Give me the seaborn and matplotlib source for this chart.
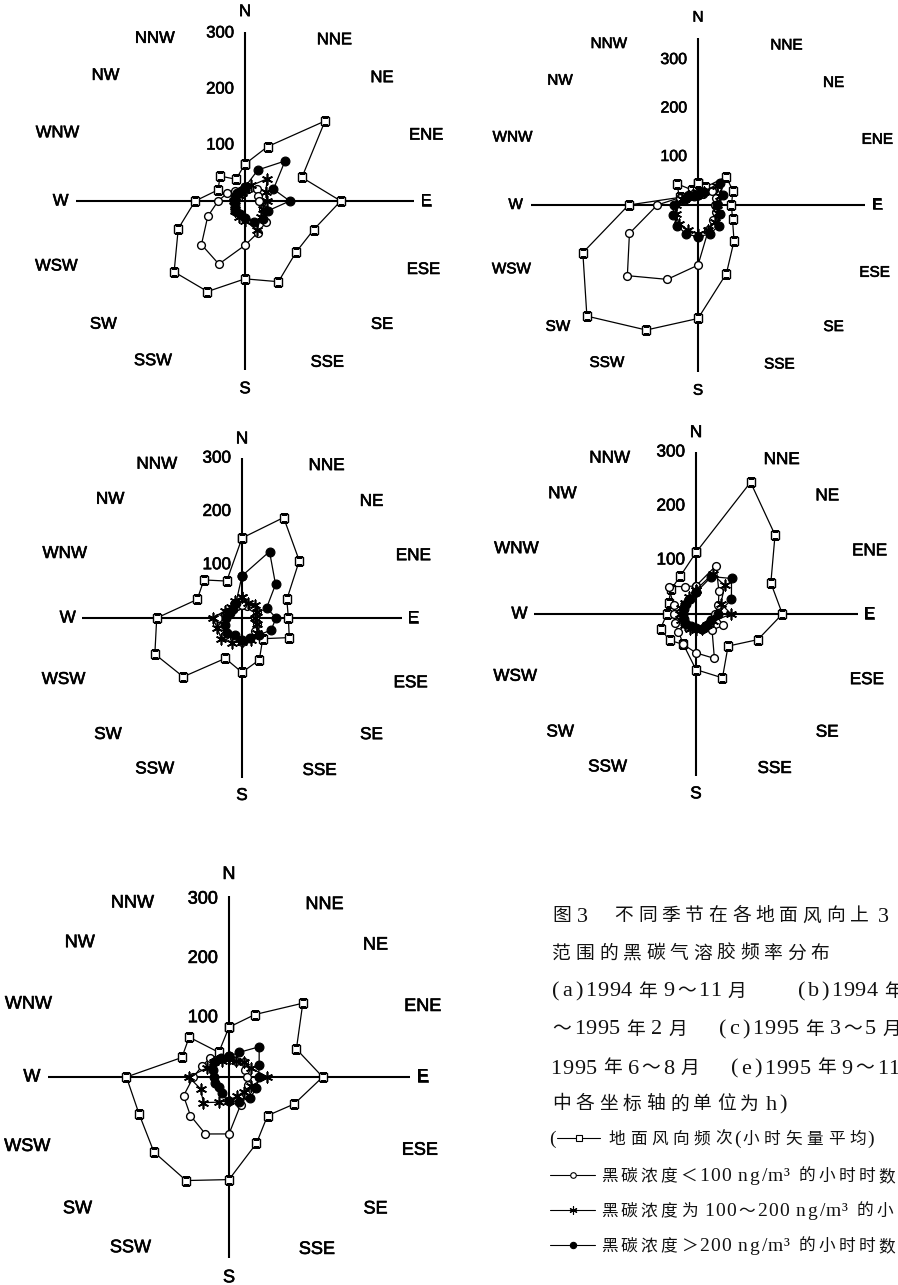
import numpy as np
import matplotlib
matplotlib.use("Agg")
import matplotlib.pyplot as plt
import matplotlib.patheffects as pe
import seaborn as sns
from matplotlib.transforms import ScaledTranslation
from matplotlib.lines import Line2D

# ---------------------------------------------------------------------------
# Data: hours per surface wind direction (16 compass points, clockwise from N)
# ---------------------------------------------------------------------------
directions = ["N", "NNE", "NE", "ENE", "E", "ESE", "SE", "SSE",
              "S", "SSW", "SW", "WSW", "W", "WNW", "NW", "NNW"]
tick_values = [100, 200, 300]

# (a) 1994-09 ~ 1994-11
a_wind = [66, 105, 202, 110, 171, 133, 129, 156, 139, 175, 179, 129, 89, 52, 63, 42]
a_low = [20, 25, 30, 25, 25, 35, 53, 61, 79, 122, 110, 72, 48, 35, 25, 20]
a_mid = [20, 30, 56, 40, 40, 35, 40, 56, 35, 30, 25, 20, 20, 15, 15, 15]
a_high = [25, 60, 101, 55, 80, 45, 45, 40, 30, 25, 25, 20, 20, 20, 20, 20]

# (b) 1994-12 ~ 1995-02
b_wind = [46, 40, 82, 78, 69, 77, 105, 153, 234, 279, 324, 257, 143, 41, 62, 34]
b_low = [25, 25, 40, 40, 35, 40, 45, 56, 124, 166, 206, 153, 84, 40, 30, 25]
b_mid = [25, 30, 55, 50, 40, 45, 50, 55, 60, 55, 55, 50, 45, 35, 25, 25]
b_high = [20, 30, 64, 55, 40, 50, 60, 65, 65, 65, 60, 55, 50, 30, 25, 20]

# (c) 1995-03 ~ 1995-05
c_wind = [150, 204, 152, 91, 87, 96, 55, 85, 102, 82, 156, 177, 160, 91, 101, 75]
c_low = [25, 25, 30, 30, 25, 30, 35, 40, 45, 40, 45, 40, 45, 30, 25, 25]
c_mid = [40, 30, 35, 30, 25, 30, 40, 45, 45, 50, 55, 50, 55, 35, 30, 35]
c_high = [79, 135, 89, 50, 64, 59, 45, 40, 42, 35, 40, 35, 30, 25, 25, 30]

# (d) 1995-06 ~ 1995-08
d_wind = [114, 264, 207, 150, 160, 124, 84, 128, 103, 61, 69, 71, 54, 55, 65, 76]
d_low = [52, 97, 60, 45, 35, 55, 42, 89, 72, 61, 46, 43, 40, 45, 72, 55]
d_mid = [45, 80, 75, 50, 65, 35, 30, 30, 30, 30, 30, 30, 30, 30, 30, 35]
d_high = [40, 75, 93, 71, 40, 30, 30, 30, 25, 25, 25, 25, 25, 25, 25, 30]

# (e) 1995-09 ~ 1995-11
e_wind = [84, 114, 176, 123, 158, 119, 92, 121, 173, 189, 179, 164, 173, 86, 95, 45]
e_low = [35, 30, 35, 30, 30, 35, 40, 51, 96, 104, 92, 83, 60, 49, 45, 35]
e_mid = [30, 30, 35, 40, 64, 40, 35, 35, 40, 46, 61, 52, 68, 40, 35, 30]
e_high = [35, 45, 72, 55, 50, 50, 50, 45, 40, 30, 25, 25, 25, 30, 35, 35]

caption_lines = [
    "图 3　不同季节在各地面风向上  3",
    "范围的黑碳气溶胶频率分布",
    "(a)1994 年 9～11 月　　(b)1994 年",
    "～1995 年 2 月　 (c)1995 年 3～5 月",
    "1995 年 6～8 月　 (e)1995 年 9～11",
    "中各坐标轴的单位为 h)",
]
legend_lines = [
    "地面风向频次(小时矢量平均)",
    "黑碳浓度＜100 ng/m³ 的小时时数",
    "黑碳浓度为 100～200 ng/m³ 的小",
    "黑碳浓度＞200 ng/m³ 的小时时数",
]

# ---------------------------------------------------------------------------
# Layout and style
# ---------------------------------------------------------------------------
W, H = 898, 1285
sns.set_style("white")
plt.rcParams["font.family"] = ["Liberation Sans", "Noto Sans CJK SC", "DejaVu Sans"]

fig = plt.figure(figsize=(W / 100, H / 100), dpi=100)
fig.patch.set_facecolor("white")

# compass label placement: bearing (deg) and distance relative to the arm length
label_bearing = [0, 29, 48, 70, 90, 111, 132, 153, 180, 210, 229, 251, 270, 290, 312, 331]
label_dist = [1.12, 1.09, 1.09, 1.14, 1.07, 1.13, 1.09, 1.07,
              1.11, 1.09, 1.11, 1.18, 1.09, 1.18, 1.11, 1.10]
heavier = [pe.withStroke(linewidth=0.45, foreground="black")]

series_styles = [
    dict(marker="s", markersize=5.3, markerfacecolor="white",
         markeredgecolor="black", markeredgewidth=1.0),
    dict(marker="o", markersize=5.6, markerfacecolor="white",
         markeredgecolor="black", markeredgewidth=1.0),
    dict(marker=(6, 2, 0), markersize=8, markerfacecolor="black",
         markeredgecolor="black", markeredgewidth=1.2),
    dict(marker="o", markersize=6.3, markerfacecolor="black",
         markeredgecolor="black", markeredgewidth=0.9),
]

panels = [
    dict(series=(a_wind, a_low, a_mid, a_high), cx=245, cy=201, scale=0.56, arm=302, fs=12, tfs=12),
    dict(series=(b_wind, b_low, b_mid, b_high), cx=698, cy=205, scale=0.485, arm=345, fs=11, tfs=11.5),
    dict(series=(c_wind, c_low, c_mid, c_high), cx=242, cy=618, scale=0.533, arm=300, fs=12.3, tfs=12.3),
    dict(series=(d_wind, d_low, d_mid, d_high), cx=696, cy=614, scale=0.54, arm=300, fs=12.3, tfs=12.3),
    dict(series=(e_wind, e_low, e_mid, e_high), cx=229, cy=1077, scale=0.593, arm=305, fs=13, tfs=13),
]

theta = np.deg2rad(np.arange(len(directions)) * 22.5)
theta_closed = np.append(theta, 2 * np.pi)


def draw_panel(p):
    rmax = p["arm"] * 1.32
    half = rmax * p["scale"]
    ax = fig.add_axes([(p["cx"] - half) / W, 1 - (p["cy"] + half) / H,
                       2 * half / W, 2 * half / H], projection="polar")
    ax.set_theta_zero_location("N")
    ax.set_theta_direction(-1)

    for z, (vals, style) in enumerate(zip(p["series"], series_styles)):
        r = np.append(vals, vals[0])
        sns.lineplot(x=theta_closed, y=r, sort=False, estimator=None, ax=ax,
                     color="black", linewidth=0.9, zorder=3 + z, **style)

    # the four compass arms
    ax.vlines(np.deg2rad([0, 90, 180, 270]), 0, p["arm"], color="black",
              linewidth=1.5, zorder=2)
    ax.set_ylim(0, rmax)
    ax.set_axis_off()

    # radial scale labels along the north arm
    shift = ax.transData + ScaledTranslation(-11 / 100, 0, fig.dpi_scale_trans)
    for v in tick_values:
        ax.text(0, v, str(v), transform=shift, ha="right", va="center",
                fontsize=p["tfs"], color="black", path_effects=heavier)

    # compass point names
    for name, b, d in zip(directions, label_bearing, label_dist):
        ax.text(np.deg2rad(b), d * p["arm"], name, ha="center", va="center",
                fontsize=p["fs"], color="black", path_effects=heavier)


for p in panels:
    draw_panel(p)

# ---------------------------------------------------------------------------
# Caption block (typeset on a character grid)
# ---------------------------------------------------------------------------
cjk_family = ["Noto Sans CJK SC", "DejaVu Sans"]
latin_family = ["Liberation Serif", "Noto Sans CJK SC", "DejaVu Sans"]


def is_wide(ch):
    return ord(ch) >= 0x2E80 or ch in "～＜＞"


def typeset(s, x0, baseline, pitch, half, space, cjk_fs, lat_fs, narrow="()"):
    x = x0
    for ch in s:
        if ch.isspace():
            x += pitch if ch == "\u3000" else space
            continue
        wide = is_wide(ch)
        if wide:
            w = pitch
        elif ch in narrow:
            w = half * 0.7
        else:
            w = half
        fig.text((x + w / 2) / W, 1 - baseline / H, ch, ha="center", va="baseline",
                 fontsize=cjk_fs if wide else lat_fs,
                 family=cjk_family if wide else latin_family, color="#111111")
        x += w


body = dict(pitch=23.5, half=11.75, space=3.5, cjk_fs=13.5, lat_fs=16, narrow="")
line_centers = [915, 952, 990, 1028, 1067, 1103, 1138, 1175, 1210, 1245]
for s, yc in zip(caption_lines, line_centers[:6]):
    typeset(s, 550, yc + 6.5, **body)


def legend_key(x0, x1, yc, style):
    xs = np.array([x0, (x0 + x1) / 2, x1]) / W
    ys = np.full(3, 1 - yc / H)
    kw = dict(style)
    kw["markersize"] = kw["markersize"] * 0.72
    kw["markeredgewidth"] = 0.8
    fig.add_artist(Line2D(xs, ys, transform=fig.transFigure, color="black",
                          linewidth=0.8, markevery=[1], **kw))


# first legend line opens with a parenthesis
typeset("(", 550, line_centers[6] + 6, pitch=20, half=8, space=4, cjk_fs=12, lat_fs=14)
legend_key(557, 600, line_centers[6], series_styles[0])
typeset(legend_lines[0], 606, line_centers[6] + 6, pitch=21.3, half=9, space=4,
        cjk_fs=12, lat_fs=14)
for s, yc, style in zip(legend_lines[1:], line_centers[7:], series_styles[1:]):
    legend_key(550, 595, yc, style)
    typeset(s, 599, yc + 6, pitch=20, half=11, space=5, cjk_fs=12, lat_fs=14, narrow="")

fig.savefig("out.png", dpi=100, facecolor="white")
